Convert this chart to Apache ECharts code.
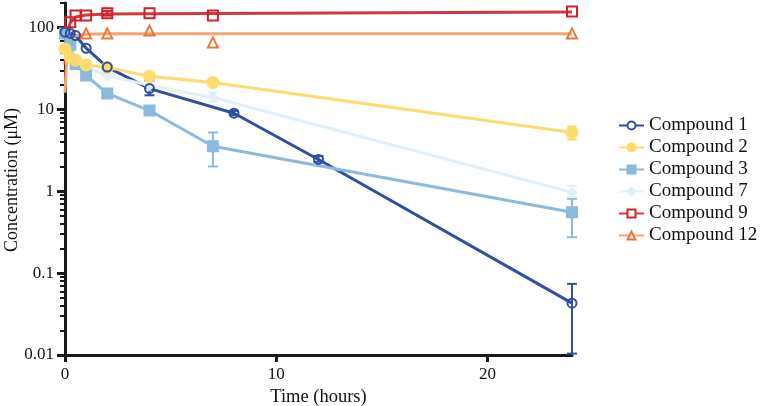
<!DOCTYPE html>
<html><head><meta charset="utf-8">
<script src="https://cdn.jsdelivr.net/npm/echarts@6/dist/echarts.min.js"></script>
<style>html,body{margin:0;padding:0;background:#fff}#c{width:761px;height:406px}</style>
</head><body><div id="c"></div>
<script>
// ---- data ----
const names = ['Compound 1','Compound 2','Compound 3','Compound 7','Compound 9','Compound 12'];
const xTicks = [0,10,20];
const yTicks = [0.01,0.1,1,10,100];
const yMinorTicks = [0.02,0.03,0.04,0.05,0.06,0.07,0.08,0.09,0.2,0.3,0.4,0.5,0.6,0.7,0.8,0.9,2,3,4,5,6,7,8,9,20,30,40,50,60,70,80,90,200];
const yTitle = 'Concentration (\u03bcM)';

const c1T = [0,0.25,0.5,1,2,4,8,12,24];
const c1V = [88,85,80,56,33,18,9.0,2.45,0.043];
const c1Err = [[4,14.9,22.6],[8,8.5,9.6],[12,2.3,2.7],[24,0.0104,0.074]];

const c2T = [0,0.25,0.5,1,2,4,7,24];
const c2V = [55,43,40,35,32.7,25.4,21.4,5.24];
const c2Err = [[24,4.3,6.2]];

const c3T = [0,0.25,0.5,1,2,4,7,24];
const c3V = [85,62,36,26,15.7,9.7,3.55,0.555];
const c3Err = [[2,14.6,17],[7,2.01,5.24],[24,0.275,0.81]];

const c7T = [0,0.25,0.5,1,2,4,7,24];
const c7V = [55,45,40,33,26,19.7,14.0,0.97];
const c7Err = [[7,12.5,16.1],[24,0.85,1.16]];

const c9T = [0.25,0.5,1,2,4,7,24];
const c9V = [116,141,141,150,150,141,158];
const c9FitT = [0,0.1,0.25,0.5,1,2,4,7,24];
const c9FitV = [35,80,115,135,143,147,148,149,155];
const c9Err = [[2,140,160]];

const c12T = [1,2,4,7,24];
const c12V = [85,85,92,66,85];
const c12FitT = [0,0.1,0.25,0.5,1,2,4,7,24];
const c12FitV = [16,50,72,80,83,84,84,84,84];

// ---- styles ----
const FONT = 'Liberation Serif';
const zip = (t,v)=>t.map((x,i)=>[x,v[i]]);

function lineS(name, t, v, color, symbol, symColor, filled){
  return {type:'line', name, data:zip(t,v), showSymbol:false, symbol, symbolSize:9,
    clip:false, z:2,
    lineStyle:{color, width:3},
    itemStyle:{color: filled? symColor : '#fff', borderColor:symColor, borderWidth:2}};
}
function ptsS(name, t, v, symbol, color, filled, size){
  return {type:'scatter', name, data:zip(t,v), symbol, symbolSize:size||9, clip:false, z:4,
    itemStyle:{color: filled? color : 'rgba(255,255,255,0)', borderColor:color, borderWidth:2, opacity:1}};
}
function errS(name, data, color){
  return {type:'custom', name, data, z:3, clip:false,
    encode:{x:0, y:[1,2]},
    renderItem(params, api){
      const x = api.value(0), lo = api.value(1), hi = api.value(2);
      const a = api.coord([x,lo]), b = api.coord([x,hi]);
      const w = 5;
      const st = {stroke:color, lineWidth:2};
      return {type:'group', children:[
        {type:'line', shape:{x1:a[0],y1:a[1],x2:b[0],y2:b[1]}, style:st},
        {type:'line', shape:{x1:a[0]-w,y1:a[1],x2:a[0]+w,y2:a[1]}, style:st},
        {type:'line', shape:{x1:b[0]-w,y1:b[1],x2:b[0]+w,y2:b[1]}, style:st}
      ]};
    }};
}

const C = {c1:'#2f4f9f', c2:'#fedb6c', c3:'#8cb9de', c7:'#dff0fa', c9:'#cc2229', c9l:'#d2383d', c12:'#ef7538', c12l:'#f8a36e'};

const series = [
  lineS('Compound 1', c1T, c1V, C.c1, 'circle', C.c1, false),
  lineS('Compound 2', c2T, c2V, C.c2, 'circle', C.c2, true),
  lineS('Compound 3', c3T, c3V, C.c3, 'rect', C.c3, true),
  lineS('Compound 7', c7T, c7V, C.c7, 'diamond', C.c7, true),
  lineS('Compound 9', c9FitT, c9FitV, C.c9l, 'rect', C.c9, false),
  lineS('Compound 12', c12FitT, c12FitV, C.c12l, 'triangle', C.c12, false),
  errS('e1', c1Err, C.c1), errS('e2', c2Err, C.c2), errS('e3', c3Err, C.c3),
  errS('e7', c7Err, C.c7), errS('e9', c9Err, C.c9),
  ptsS('p7', c7T, c7V, 'diamond', C.c7, true, 9),
  ptsS('p3', c3T, c3V, 'rect', C.c3, true, 10),
  ptsS('p2', c2T, c2V, 'circle', C.c2, true, 11),
  ptsS('p1', c1T, c1V, 'circle', C.c1, false, 9),
  ptsS('p12', c12T, c12V, 'triangle', C.c12, false, 10),
  ptsS('p9', c9T, c9V, 'rect', C.c9, false, 10)
];

const axisLine = {show:true, lineStyle:{color:'#1a1a1a', width:3}};
const chart = echarts.init(document.getElementById('c'), null, {renderer:'canvas'});
chart.setOption({
  animation:false,
  backgroundColor:'#fff',
  textStyle:{fontFamily:FONT},
  grid:{left:65, right:189, top:3, bottom:51, containLabel:false, outerBoundsMode:'none'},
  legend:{data:names, orient:'vertical', left:613, top:111, itemWidth:25, itemHeight:10, itemGap:3,
    textStyle:{fontFamily:FONT, fontSize:19, color:'#111'}},
  graphic:[{type:'text', rotation:Math.PI/2, x:12, y:180, z:10,
    style:{text:yTitle, fontFamily:FONT, fontSize:18, fill:'#111', align:'center', verticalAlign:'middle'}}],
  xAxis:{type:'value', min:0, max:24, interval:10,
    name:'Time (hours)', nameLocation:'middle', nameGap:33,
    nameTextStyle:{fontFamily:FONT, fontSize:18.5, color:'#111'},
    axisLine, splitLine:{show:false},
    axisTick:{show:true, length:7, customValues:xTicks, lineStyle:{color:'#1a1a1a', width:3}},
    axisLabel:{fontFamily:FONT, fontSize:17, color:'#111', margin:11, customValues:xTicks}},
  yAxis:[{type:'log', logBase:10, min:0.01, max:200,
    axisLine, splitLine:{show:false}, minorTick:{show:false},
    axisTick:{show:true, length:8, customValues:yTicks, lineStyle:{color:'#1a1a1a', width:3}},
    axisLabel:{fontFamily:FONT, fontSize:17, color:'#111', margin:11, customValues:yTicks,
      formatter:v=>String(+(+v).toPrecision(3))}},
   {type:'log', logBase:10, min:0.01, max:200, position:'left', offset:0,
    axisLine:{show:false}, splitLine:{show:false}, axisLabel:{show:false},
    axisTick:{show:true, length:5, customValues:yMinorTicks, lineStyle:{color:'#1a1a1a', width:2}}}],
  series
});
</script></body></html>
